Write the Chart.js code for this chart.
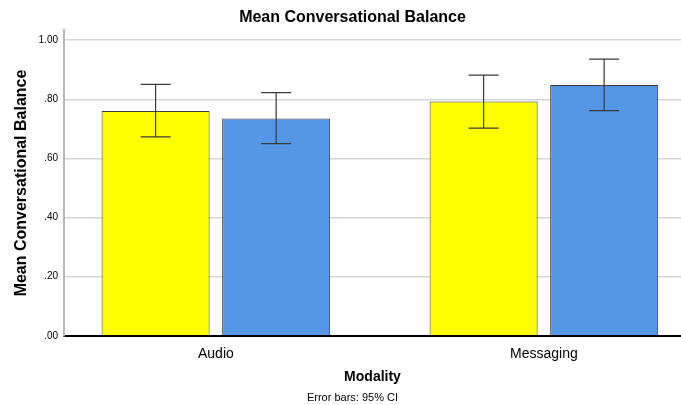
<!DOCTYPE html>
<html lang="en">
<head>
  <meta charset="UTF-8">
  <title>Mean Conversational Balance</title>
  <script src="https://cdn.jsdelivr.net/npm/chart.js"></script>
  <style>
    html, body {
      margin: 0;
      padding: 0;
      background: #fff;
    }
    #wrap {
      width: 681px;
      height: 405px;
    }
  </style>
</head>
<body>
  <div id="wrap"><canvas id="balanceChart"></canvas></div>

  <script>
    // Values
    const modalities = ['Audio', 'Messaging'];
    const modalityPos = [0, 1];
    const yTicks = [0, 0.2, 0.4, 0.6, 0.8, 1.0];

    const yellowMeans = [0.761, 0.793];
    const yellowLow = [0.673, 0.703];
    const yellowHigh = [0.851, 0.882];

    const blueMeans = [0.735, 0.849];
    const blueLow = [0.650, 0.762];
    const blueHigh = [0.823, 0.936];

    const FONT = 'Liberation Sans, Arial, sans-serif';

    const toPoints = vals => vals.map((v, i) => ({ x: modalityPos[i], y: v }));

    // Draw 95% CI whiskers from the dataset's low/high arrays
    const errorBars = {
      id: 'errorBars',
      afterDatasetsDraw(chart) {
        const ctx = chart.ctx;
        const yScale = chart.scales.y;
        chart.data.datasets.forEach((ds, i) => {
          const meta = chart.getDatasetMeta(i);
          meta.data.forEach((bar, j) => {
            const yLo = yScale.getPixelForValue(ds.low[j]);
            const yHi = yScale.getPixelForValue(ds.high[j]);
            const half = 15;
            ctx.save();
            ctx.strokeStyle = '#3a3a3a';
            ctx.lineWidth = 1.2;
            ctx.beginPath();
            ctx.moveTo(bar.x, yLo);
            ctx.lineTo(bar.x, yHi);
            ctx.moveTo(bar.x - half, yHi);
            ctx.lineTo(bar.x + half, yHi);
            ctx.moveTo(bar.x - half, yLo);
            ctx.lineTo(bar.x + half, yLo);
            ctx.stroke();
            ctx.restore();
          });
        });
      }
    };

    const ctx = document.getElementById('balanceChart').getContext('2d');
    new Chart(ctx, {
      type: 'bar',
      data: {
        datasets: [
          {
            label: 'Group 1',
            data: toPoints(yellowMeans),
            low: yellowLow,
            high: yellowHigh,
            backgroundColor: '#ffff00',
            borderColor: '#3c3c3c',
            borderWidth: 1
          },
          {
            label: 'Group 2',
            data: toPoints(blueMeans),
            low: blueLow,
            high: blueHigh,
            backgroundColor: '#5596e5',
            borderColor: '#3c3c3c',
            borderWidth: 1
          }
        ]
      },
      options: {
        responsive: true,
        maintainAspectRatio: false,
        animation: false,
        layout: { padding: { left: 24, right: 0, top: 0, bottom: 0 } },
        datasets: {
          bar: {
            categoryPercentage: 0.735,
            barPercentage: 0.896
          }
        },
        plugins: {
          legend: { display: false },
          tooltip: { enabled: false },
          title: {
            display: true,
            text: 'Mean Conversational Balance',
            color: '#000',
            font: { family: FONT, size: 16, weight: 'bold' },
            padding: { top: 8, bottom: 3 }
          },
          subtitle: {
            display: true,
            position: 'bottom',
            text: 'Error bars: 95% CI',
            color: '#000',
            font: { family: FONT, size: 11 },
            padding: { top: 0, bottom: 0 }
          }
        },
        scales: {
          x: {
            type: 'linear',
            offset: false,
            min: -0.463,
            max: 1.418,
            afterBuildTicks: s => { s.ticks = modalityPos.map(v => ({ value: v })); },
            grid: { display: false, drawTicks: false },
            border: { color: '#000', width: 2 },
            ticks: {
              color: '#000',
              font: { family: FONT, size: 14 },
              padding: 10,
              callback: v => modalities[modalityPos.indexOf(v)]
            },
            title: {
              display: true,
              text: 'Modality',
              color: '#000',
              font: { family: FONT, size: 14, weight: 'bold' },
              padding: { top: 4, bottom: 6 }
            },
            afterFit: s => { s.height = 56; }
          },
          y: {
            min: 0,
            max: 1.034,
            afterBuildTicks: s => { s.ticks = yTicks.map(v => ({ value: v })); },
            grid: { color: '#d6d6d6', lineWidth: 1.5, drawTicks: false },
            border: { color: '#b8b8b8', width: 2 },
            ticks: {
              color: '#000',
              font: { family: FONT, size: 10 },
              padding: 6,
              callback: v => v.toFixed(2).replace(/^0/, '')
            },
            title: {
              display: true,
              text: 'Mean Conversational Balance',
              color: '#000',
              font: { family: FONT, size: 16, weight: 'bold' },
              padding: { top: -12, bottom: 4 }
            },
            afterFit: s => { s.width = 40; }
          }
        }
      },
      plugins: [errorBars]
    });
  </script>
</body>
</html>
